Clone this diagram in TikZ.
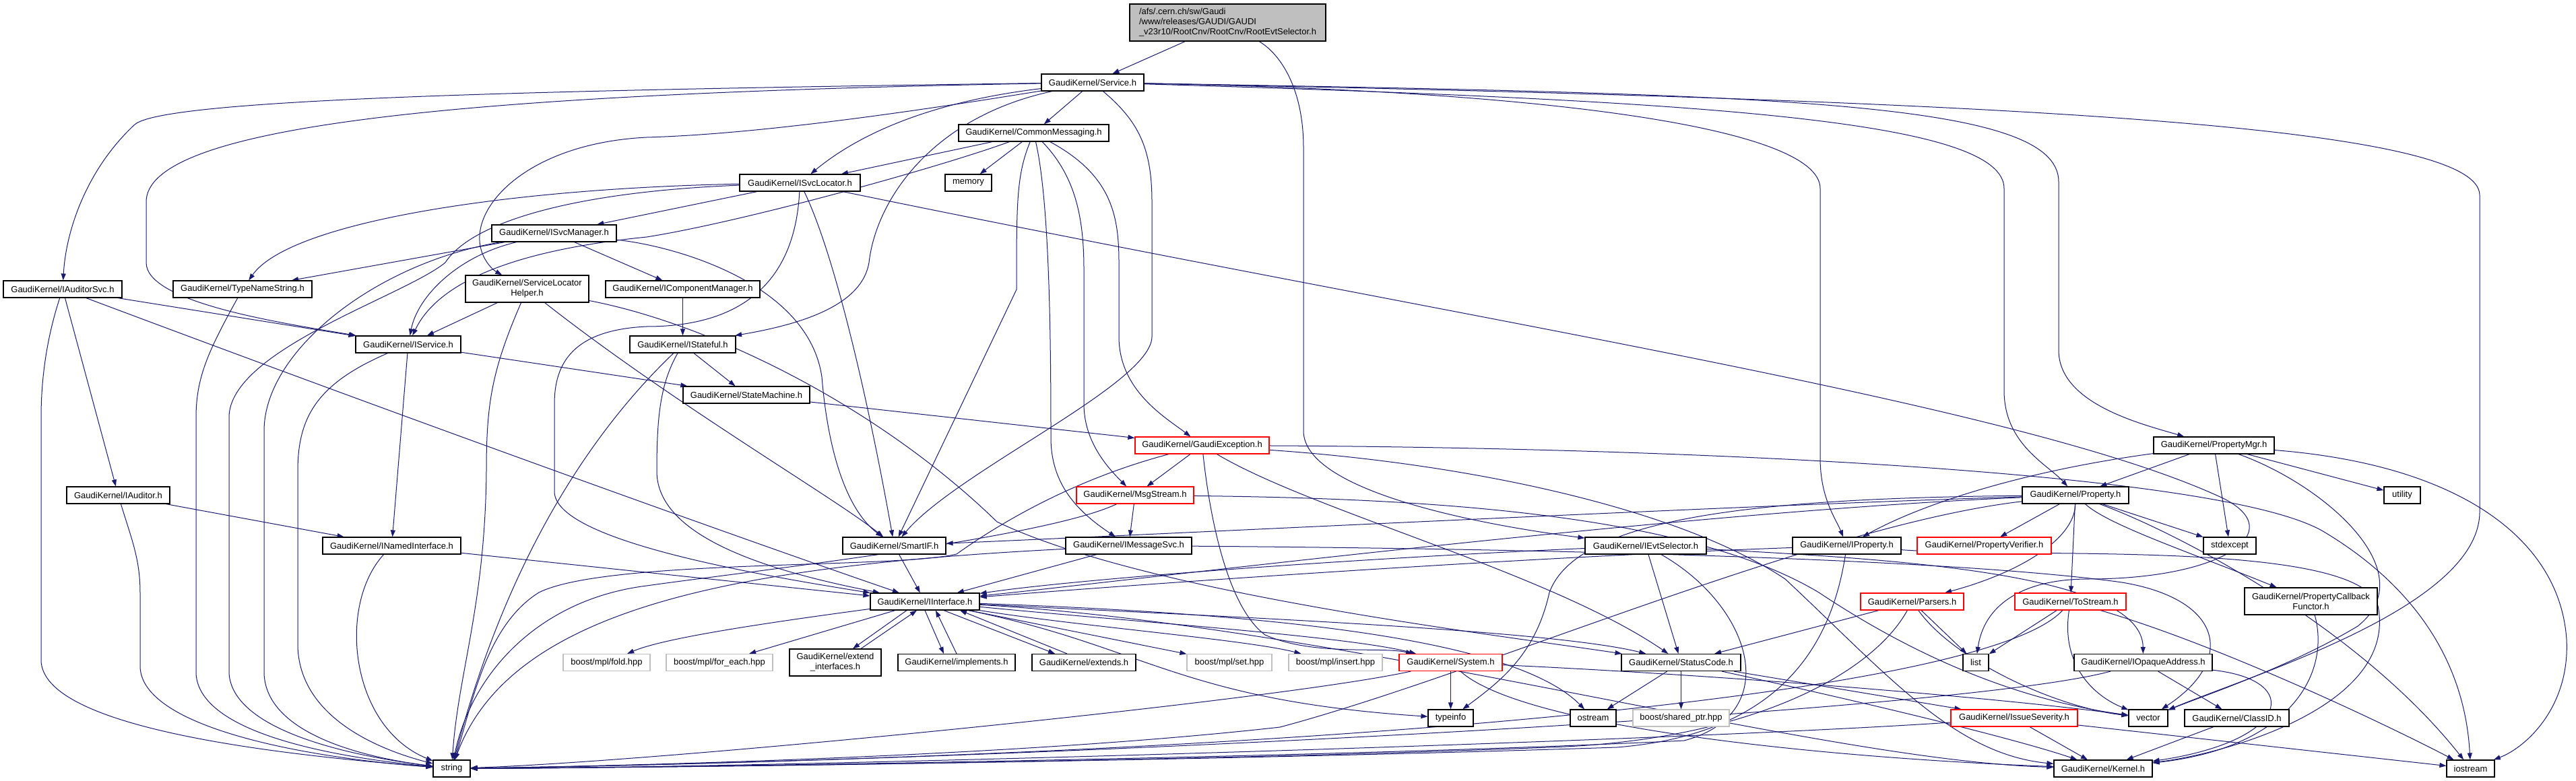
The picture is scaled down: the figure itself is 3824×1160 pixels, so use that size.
\documentclass[tikz,border=0pt]{standalone}
\usepackage{fontspec}
\setmainfont{Liberation Sans}
\usetikzlibrary{arrows.meta}
\definecolor{edgeblue}{RGB}{25,25,112}
\definecolor{rootgray}{RGB}{191,191,191}
\pgfdeclarelayer{bgfill}
\pgfdeclarelayer{bg}
\pgfsetlayers{bgfill,bg,main}
\begin{document}
\begin{tikzpicture}[x=0.5pt,y=-0.5pt,
  box/.style={draw=black, fill=white, line width=0.6pt, rectangle, inner sep=0pt,
    font=\fontsize{6.5}{7.5}\selectfont, minimum height=12.5pt, align=center},
  redbox/.style={box, draw=red},
  greybox/.style={box, draw=rootgray},
  e/.style={draw=edgeblue, line width=0.5pt, -{Triangle[length=5pt,width=3.5pt]}}]
\begin{pgfonlayer}{bgfill}
\fill[white] (0,0) rectangle (3824,1160);
\end{pgfonlayer}
\useasboundingbox (0,0) rectangle (3824,1160);
% ---------------- nodes ----------------
\node[box, fill=rootgray, align=left, minimum width=145.5pt, minimum height=27.5pt] (root) at (1822.5,33.5) {/afs/.cern.ch/sw/Gaudi\\/www/releases/GAUDI/GAUDI\\\_v23r10/RootCnv/RootCnv/RootEvtSelector.h};
\node[box, minimum width=76pt] (svc) at (1622,122.5) {GaudiKernel/Service.h};
\node[box, minimum width=111.5pt] (cm) at (1534.5,197.5) {GaudiKernel/CommonMessaging.h};
\node[box, minimum width=89.5pt] (isl) at (1187.5,271.5) {GaudiKernel/ISvcLocator.h};
\node[box, minimum width=34.5pt] (mem) at (1437.5,271.5) {memory};
\node[box, minimum width=92.5pt] (ism) at (822.5,346.5) {GaudiKernel/ISvcManager.h};
\node[box, minimum width=88pt] (ias) at (93,429.5) {GaudiKernel/IAuditorSvc.h};
\node[box, minimum width=103pt] (tns) at (360,429.5) {GaudiKernel/TypeNameString.h};
\node[box, minimum width=91.5pt, minimum height=20pt] (slh) at (782.5,429) {GaudiKernel/ServiceLocator\\Helper.h};
\node[box, minimum width=114.5pt] (icm) at (1013.5,429.5) {GaudiKernel/IComponentManager.h};
\node[box, minimum width=78pt] (isv) at (606,511.5) {GaudiKernel/IService.h};
\node[box, minimum width=78.5pt] (ist) at (1013.5,511.5) {GaudiKernel/IStateful.h};
\node[box, minimum width=94pt] (sm) at (1108,586.5) {GaudiKernel/StateMachine.h};
\node[redbox, minimum width=99.5pt] (gex) at (1784.5,661.5) {GaudiKernel/GaudiException.h};
\node[redbox, minimum width=87pt] (msg) at (1685,735.5) {GaudiKernel/MsgStream.h};
\node[box, minimum width=76.5pt] (iau) at (175.5,735.5) {GaudiKernel/IAuditor.h};
\node[box, minimum width=89.5pt] (pmg) at (3286.5,661.5) {GaudiKernel/PropertyMgr.h};
\node[box, minimum width=79pt] (prp) at (3081,735.5) {GaudiKernel/Property.h};
\node[box, minimum width=27pt] (uti) at (3566,735.5) {utility};
\node[box, minimum width=102.5pt] (nif) at (581.5,810.5) {GaudiKernel/INamedInterface.h};
\node[box, minimum width=76.5pt] (sif) at (1327.5,810.5) {GaudiKernel/SmartIF.h};
\node[box, minimum width=93.5pt] (ims) at (1675.5,810.5) {GaudiKernel/IMessageSvc.h};
\node[box, minimum width=90pt] (ies) at (2443,810.5) {GaudiKernel/IEvtSelector.h};
\node[box, minimum width=80.5pt] (ipr) at (2741.5,810.5) {GaudiKernel/IProperty.h};
\node[redbox, minimum width=99.5pt] (pvf) at (2945.5,810.5) {GaudiKernel/PropertyVerifier.h};
\node[box, minimum width=39pt] (ste) at (3310,810.5) {stdexcept};
\node[box, minimum width=81pt] (iif) at (1373,893.5) {GaudiKernel/IInterface.h};
\node[redbox, minimum width=76.5pt] (par) at (2838.5,893.5) {GaudiKernel/Parsers.h};
\node[redbox, minimum width=82.5pt] (tos) at (3073.5,893.5) {GaudiKernel/ToStream.h};
\node[box, minimum width=98.5pt, minimum height=20pt] (pcf) at (3430.5,893) {GaudiKernel/PropertyCallback\\Functor.h};
\node[greybox, minimum width=64.5pt] (fold) at (900.5,984) {boost/mpl/fold.hpp};
\node[greybox, minimum width=79pt] (fe) at (1068,984) {boost/mpl/for\_each.hpp};
\node[box, minimum width=68pt, minimum height=20pt] (ext) at (1240,984) {GaudiKernel/extend\\\_interfaces.h};
\node[box, minimum width=87pt] (imp) at (1420,984) {GaudiKernel/implements.h};
\node[box, minimum width=77pt] (exs) at (1609,984) {GaudiKernel/extends.h};
\node[greybox, minimum width=63pt] (set) at (1825,984) {boost/mpl/set.hpp};
\node[greybox, minimum width=69.5pt] (ins) at (1982.5,984) {boost/mpl/insert.hpp};
\node[redbox, minimum width=76.5pt] (sys) at (2153.5,984) {GaudiKernel/System.h};
\node[box, minimum width=88.5pt] (sc) at (2495.5,984) {GaudiKernel/StatusCode.h};
\node[box, minimum width=19pt] (lst) at (2933,984) {list};
\node[box, minimum width=102.5pt] (ioa) at (3181.5,984) {GaudiKernel/IOpaqueAddress.h};
\node[box, minimum width=33.5pt] (ti) at (2153.5,1066.5) {typeinfo};
\node[box, minimum width=34pt] (ost) at (2365,1066.5) {ostream};
\node[greybox, minimum width=71.5pt] (shp) at (2495.5,1066.5) {boost/shared\_ptr.hpp};
\node[redbox, minimum width=94pt] (iss) at (2990,1066.5) {GaudiKernel/IssueSeverity.h};
\node[box, minimum width=29pt] (vec) at (3189,1066.5) {vector};
\node[box, minimum width=77.5pt] (cid) at (3320.5,1066.5) {GaudiKernel/ClassID.h};
\node[box, minimum width=27.5pt] (str) at (670.5,1141.5) {string};
\node[box, minimum width=73pt] (ker) at (3122,1141.5) {GaudiKernel/Kernel.h};
\node[box, minimum width=35.5pt] (ios) at (3667.5,1141.5) {iostream};
% ---------------- edges ----------------
\begin{pgfonlayer}{bg}
% root
\draw[e] (root) -- (svc);
\draw[e] (root) .. controls (1900,80) and (1935,130) .. (1935,220) -- (1935,640) .. controls (1935,730) and (2200,780) .. (ies);
% Service
\draw[e] (svc) .. controls (700,135) and (240,150) .. (200,185) .. controls (130,250) and (98,340) .. (ias);
\draw[e] (svc) .. controls (650,140) and (217,190) .. (217,300) -- (217,390) .. controls (217,450) and (420,480) .. (isv);
\draw[e] (svc) .. controls (1300,175) and (1100,200) .. (960,204) .. controls (800,212) and (715,290) .. (712,350) .. controls (710,380) and (730,400) .. (slh);
\draw[e] (svc) .. controls (1390,150) and (1280,195) .. (isl);
\draw[e] (svc) -- (cm);
\draw[e] (svc) .. controls (1380,175) and (1300,300) .. (1290,390) .. controls (1280,450) and (1200,480) .. (ist);
\draw[e] (svc) .. controls (1690,180) and (1710,220) .. (1710,300) -- (1710,500) .. controls (1710,570) and (1420,700) .. (sif);
\draw[e] (svc) .. controls (2300,135) and (2702,190) .. (2702,280) -- (2702,680) .. controls (2702,740) and (2725,770) .. (ipr);
\draw[e] (svc) .. controls (2550,150) and (2975,180) .. (2975,280) -- (2975,580) .. controls (2975,660) and (3040,690) .. (prp);
\draw[e] (svc) .. controls (2650,140) and (3056,150) .. (3056,270) -- (3056,520) .. controls (3056,600) and (3180,630) .. (pmg);
\draw[e] (svc) .. controls (3050,150) and (3681,190) .. (3681,290) -- (3681,760) .. controls (3681,900) and (3350,1000) .. (vec);
% CommonMessaging
\draw[e] (cm) -- (isl);
\draw[e] (cm) -- (mem);
\draw[e] (cm) .. controls (1390,250) and (1100,330) .. (960,352) .. controls (760,372) and (650,420) .. (isv);
\draw[e] (cm) .. controls (1509,260) and (1509,300) .. (1509,430) -- (sif);
\draw[e] (cm) .. controls (1558,300) and (1560,500) .. (1560,650) .. controls (1560,720) and (1600,760) .. (ims);
\draw[e] (cm) .. controls (1595,260) and (1609,320) .. (1609,400) -- (1609,600) .. controls (1609,660) and (1650,700) .. (msg);
\draw[e] (cm) .. controls (1650,260) and (1661,320) .. (1661,390) -- (1661,500) .. controls (1661,580) and (1730,620) .. (gex);
% ISvcLocator
\draw[e] (isl) -- (ism);
\draw[e] (isl) .. controls (750,280) and (430,330) .. (tns);
\draw[e] (isl) .. controls (850,285) and (700,330) .. (661,390) .. controls (600,440) and (340,520) .. (340,620) -- (340,1000) .. controls (345,1080) and (500,1120) .. (str);
\draw[e] (isl) .. controls (1180,420) and (1100,485) .. (960,485) .. controls (850,490) and (823,540) .. (823,600) -- (823,730) .. controls (823,800) and (1100,850) .. (iif);
\draw[e] (isl) .. controls (1240,380) and (1290,600) .. (sif);
\draw[e] (isl) .. controls (2200,480) and (3000,600) .. (3300,740) .. controls (3400,790) and (3300,860) .. (3100,860) .. controls (3000,860) and (2945,900) .. (lst);
% ISvcManager
\draw[e] (ism) -- (icm);
\draw[e] (ism) -- (tns);
\draw[e] (ism) .. controls (560,390) and (392,520) .. (392,640) -- (392,1000) .. controls (395,1090) and (540,1125) .. (str);
\draw[e] (ism) .. controls (680,380) and (620,440) .. (isv);
\draw[e] (ism) .. controls (1000,365) and (1200,420) .. (1220,560) .. controls (1230,680) and (1260,760) .. (sif);
% IAuditorSvc
\draw[e] (ias) -- (isv);
\draw[e] (ias) -- (iau);
\draw[e] (ias) .. controls (70,500) and (61,560) .. (61,620) -- (61,980) .. controls (61,1080) and (400,1120) .. (str);
\draw[e] (ias) .. controls (600,620) and (1100,800) .. (iif);
% TypeNameString
\draw[e] (tns) .. controls (310,520) and (291,560) .. (291,620) -- (291,1000) .. controls (295,1090) and (500,1125) .. (str);
% ServiceLocatorHelper
\draw[e] (slh) -- (isv);
\draw[e] (slh) .. controls (730,550) and (722,600) .. (722,700) .. controls (720,900) and (680,1000) .. (str);
\draw[e] (slh) .. controls (1000,600) and (1240,740) .. (sif);
\draw[e] (slh) .. controls (1050,480) and (1300,600) .. (1480,775) .. controls (1700,880) and (2200,940) .. (sc);
% IComponentManager
\draw[e] (icm) -- (ist);
% IStateful
\draw[e] (ist) -- (sm);
\draw[e] (ist) .. controls (980,570) and (975,620) .. (975,700) .. controls (975,800) and (1150,850) .. (iif);
\draw[e] (ist) .. controls (900,620) and (760,800) .. (str);
% StateMachine
\draw[e] (sm) -- (gex);
% IService
\draw[e] (isv) -- (nif);
\draw[e] (isv) .. controls (470,570) and (442,620) .. (442,700) -- (442,960) .. controls (445,1060) and (550,1110) .. (str);
\draw[e] (isv) -- (sm);
% IAuditor
\draw[e] (iau) -- (nif);
\draw[e] (iau) .. controls (195,800) and (208,830) .. (208,880) -- (208,990) .. controls (210,1080) and (450,1125) .. (str);
% INamedInterface
\draw[e] (nif) -- (iif);
\draw[e] (nif) .. controls (500,900) and (520,1080) .. (str);
% SmartIF
\draw[e] (sif) -- (iif);
% IMessageSvc
\draw[e] (ims) -- (iif);
\draw[e] (ims) .. controls (1100,840) and (760,900) .. (str);
\draw[e] (ims) .. controls (2300,815) and (2900,830) .. (3150,865) .. controls (3300,890) and (3320,980) .. (vec);
% MsgStream
\draw[e] (msg) -- (ims);
\draw[e] (msg) .. controls (1550,800) and (1100,850) .. (960,870) .. controls (800,890) and (700,1000) .. (str);
\draw[e] (msg) .. controls (2100,740) and (2500,760) .. (2700,880) .. controls (2850,980) and (3000,1040) .. (vec);
% GaudiException
\draw[e] (gex) -- (msg);
\draw[e] (gex) .. controls (1590,713) and (1480,780) .. (1420,823) .. controls (1330,845) and (900,830) .. (800,880) .. controls (720,930) and (700,1050) .. (str);
\draw[e] (gex) .. controls (1795,760) and (1820,900) .. (1878,943) .. controls (1950,975) and (2050,960) .. (sys);
\draw[e] (gex) .. controls (1950,760) and (2300,850) .. (sc);
\draw[e] (gex) .. controls (2500,665) and (3300,700) .. (3450,790) .. controls (3600,880) and (3660,1000) .. (ios);
\draw[e] (gex) .. controls (2200,690) and (2500,760) .. (2650,860) .. controls (2800,1000) and (2900,1120) .. (ker);
% IEvtSelector
\draw[e] (ies) .. controls (2000,830) and (1600,860) .. (iif);
\draw[e] (ies) -- (sc);
\draw[e] (ies) .. controls (2600,900) and (2650,1060) .. (2500,1100) .. controls (2000,1125) and (1000,1140) .. (str);
\draw[e] (ies) .. controls (2800,830) and (3180,850) .. (ioa);
% IProperty
\draw[e] (ipr) .. controls (2200,830) and (1600,875) .. (iif);
\draw[e] (ipr) .. controls (2720,950) and (2650,1090) .. (2400,1110) .. controls (1800,1130) and (1000,1140) .. (str);
\draw[e] (ipr) .. controls (3000,830) and (3500,800) .. (3530,900) .. controls (3560,1050) and (3300,1120) .. (ker);
% Property
\draw[e] (prp) .. controls (2600,750) and (1800,790) .. (sif);
\draw[e] (prp) .. controls (2500,760) and (1700,860) .. (iif);
\draw[e] (prp) .. controls (2700,780) and (2200,1000) .. (1900,1080) .. controls (1500,1125) and (900,1138) .. (str);
\draw[e] (prp) .. controls (2600,740) and (2340,770) .. (2300,880) .. controls (2280,970) and (2230,1010) .. (ti);
\draw[e] (prp) -- (pvf);
\draw[e] (prp) .. controls (3080,800) and (3000,850) .. (par);
\draw[e] (prp) -- (tos);
\draw[e] (prp) .. controls (3130,780) and (3250,820) .. (pcf);
\draw[e] (prp) -- (ste);
\draw[e] (prp) .. controls (3230,790) and (3500,930) .. (ios);
% PropertyMgr
\draw[e] (pmg) -- (prp);
\draw[e] (pmg) .. controls (3000,700) and (2850,750) .. (ipr);
\draw[e] (pmg) -- (uti);
\draw[e] (pmg) -- (ste);
\draw[e] (pmg) .. controls (3450,720) and (3600,850) .. (3500,930) .. controls (3400,990) and (3280,1030) .. (vec);
\draw[e] (pmg) .. controls (3650,690) and (3800,800) .. (3810,950) .. controls (3815,1050) and (3750,1110) .. (ios);
% IInterface
\draw[e] (iif) .. controls (1100,930) and (980,950) .. (fold);
\draw[e] (iif) -- (fe);
\draw[e] ([xshift=-13.5pt]iif.south) -- ([xshift=13pt]ext.north);
\draw[e] ([xshift=19pt]ext.north) -- ([xshift=-6pt]iif.south);
\draw[e] (iif.south) -- ([xshift=-9.5pt]imp.north);
\draw[e] (imp.north) -- ([xshift=8pt]iif.south);
\draw[e] ([xshift=14pt]iif.south) -- ([xshift=-21.5pt]exs.north);
\draw[e] ([xshift=-12.5pt]exs.north) -- ([xshift=26pt]iif.south);
\draw[e] (iif) -- (set);
\draw[e] (iif) .. controls (1600,930) and (1850,950) .. (ins);
\draw[e] (iif) .. controls (1700,925) and (2000,945) .. (sys);
\draw[e] (iif) .. controls (1800,915) and (2300,935) .. (sc);
\draw[e] (iif) .. controls (1900,912) and (2250,950) .. (ost);
\draw[e] (iif) .. controls (1700,960) and (1750,1040) .. (ti);
\draw[e] (iif) .. controls (2000,930) and (2700,1130) .. (ker);
% System
\draw[e] (sys) -- (ti);
\draw[e] (sys) .. controls (1900,1040) and (1000,1130) .. (str);
\draw[e] (sys) .. controls (2260,1080) and (2700,1125) .. (ker);
\draw[e] (sys) .. controls (2600,1005) and (3000,1040) .. (vec);
% StatusCode
\draw[e] (sc) -- (ost);
\draw[e] (sc) -- (shp);
\draw[e] (sc) -- (iss);
\draw[e] (sc) .. controls (2800,1050) and (3000,1100) .. (ker);
% IssueSeverity
\draw[e] (iss) -- (ker);
\draw[e] (iss) -- (ios);
\draw[e] (iss) .. controls (2500,1100) and (1200,1140) .. (str);
% ClassID
\draw[e] (cid) -- (ker);
% IOpaqueAddress
\draw[e] (ioa) -- (cid);
\draw[e] (ioa) .. controls (3420,1010) and (3400,1100) .. (ker);
\draw[e] (ioa) .. controls (2900,1060) and (1500,1130) .. (str);
% PropertyCallbackFunctor
\draw[e] (pcf) .. controls (3460,1000) and (3400,1110) .. (ker);
% ToStream
\draw[e] (tos) -- (lst);
\draw[e] (tos) .. controls (3060,980) and (3100,1030) .. (vec);
\draw[e] (tos) .. controls (2950,1030) and (2000,1120) .. (str);
\draw[e] (tos) .. controls (3300,960) and (3550,1080) .. (ios);
% Parsers
\draw[e] (par) -- (sc);
\draw[e] (par) -- (lst);
\draw[e] (par) .. controls (2900,980) and (3050,1050) .. (vec);
\draw[e] (par) .. controls (2780,1000) and (2600,1100) .. (2300,1110) .. controls (1800,1130) and (1000,1140) .. (str);
\end{pgfonlayer}
\end{tikzpicture}
\end{document}
